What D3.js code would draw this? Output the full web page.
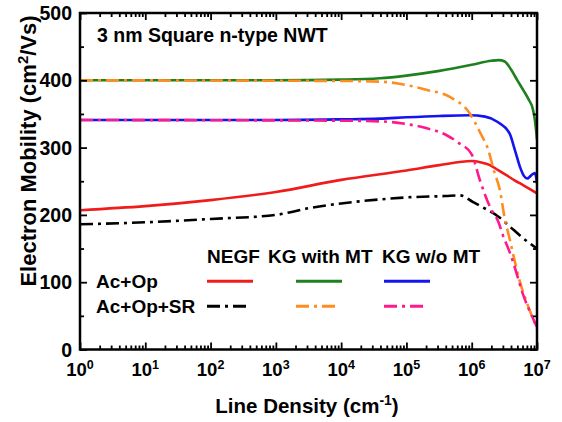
<!DOCTYPE html>
<html lang="en">
<head>
<script src="https://d3js.org/d3.v7.min.js"></script>
<style>
  body { margin: 0; background: #fff; }
  text { font-family: "Liberation Sans", Arial, sans-serif; font-weight: bold; fill: #000; }
</style>
</head>
<body>
<div id="chart"></div>
<script>
// line density (cm^-1) , mobility (cm^2/Vs)
const negfAcOp = [[1,207],[10,213],[100,222],[1e3,234],[1e4,252],[1e5,266],[3.2e5,274],[1e6,280],[1.4e6,278],[1.9e6,274],[2.5e6,267],[3.4e6,259],[4.6e6,251],[6.2e6,244],[7.9e6,238],[1e7,232]];
const negfAcOpSR = [[1,186],[10,189],[100,194],[1e3,200],[3.2e3,210],[1e4,217],[3.9e4,223],[1e5,226],[3.9e5,228],[6.6e5,229],[1.05e6,219],[1.7e6,208],[2.6e6,197],[3.8e6,183],[6.2e6,165],[1e7,150]];
const kgMtAcOp = [[1,400],[1e3,400],[1e4,401],[3.9e4,403],[1e5,407],[3.2e5,414],[1e6,423],[2e6,429],[2.6e6,430],[3.2e6,428],[4e6,416],[5e6,400],[6.2e6,385],[7.4e6,372],[8.7e6,356],[9.3e6,340],[1e7,312]];
const kgMtAcOpSR = [[1,400],[1e4,399],[3.9e4,398],[1e5,393],[2e5,386],[4.7e5,375],[9.3e5,351],[1.35e6,322],[1.8e6,296],[2.2e6,265],[2.7e6,237],[3.2e6,195],[3.8e6,165],[4.3e6,142],[5.5e6,100],[7.4e6,63],[1e7,31]];
const kgNoMtAcOp = [[1,341],[1e3,341],[1e4,342],[3.9e4,343],[1e5,345],[3.2e5,347],[9.3e5,348],[1.6e6,346],[2.5e6,338],[3.8e6,321],[4.6e6,296],[5.5e6,271],[6.3e6,258],[7.1e6,254],[7.6e6,256],[8.7e6,261],[9.3e6,262],[1e7,247]];
const kgNoMtAcOpSR = [[1,341],[1e4,340],[3.9e4,339],[1e5,335],[2e5,329],[4.2e5,318],[6.3e5,307],[1e6,290],[1.35e6,250],[1.9e6,212],[2.6e6,188],[3e6,170],[3.8e6,145],[4.3e6,130],[6.2e6,80],[8.7e6,46],[1e7,33]];

const decades = [0,1,2,3,4,5,6,7];
const yTicks = [0,100,200,300,400,500];
const columnNames = ["NEGF","KG with MT","KG w/o MT"];
const rowNames = ["Ac+Op","Ac+Op+SR"];

const series = [
  {data: negfAcOp,     col: 0, row: 0, color: "#f01c1c"},
  {data: kgMtAcOp,     col: 1, row: 0, color: "#1e801e"},
  {data: kgNoMtAcOp,   col: 2, row: 0, color: "#1414f0"},
  {data: negfAcOpSR,   col: 0, row: 1, color: "#000000"},
  {data: kgMtAcOpSR,   col: 1, row: 1, color: "#ff8c1e"},
  {data: kgNoMtAcOpSR, col: 2, row: 1, color: "#ff1a8c"}
];

var W = 562, H = 422;
var margin = {top: 13, right: 25, bottom: 72.5, left: 80},
    width = W - margin.left - margin.right,
    height = H - margin.top - margin.bottom;

var svg = d3.select("#chart").append("svg")
  .attr("width", W).attr("height", H)
  .append("g")
  .attr("transform", "translate(" + margin.left + "," + margin.top + ")");

var x = d3.scaleLog().domain([1, 1e7]).range([0, width]);
var y = d3.scaleLinear().domain([0, 500]).range([height, 0]);

var minorX = [];
decades.slice(0, -1).forEach(function(e) {
  for (var k = 2; k <= 9; k++) minorX.push(k * Math.pow(10, e));
});
var majorX = decades.map(function(e){ return Math.pow(10, e); });
var minorY = d3.range(50, 500, 100);

svg.append("clipPath").attr("id", "clip")
  .append("rect").attr("width", width).attr("height", height);

// curves: solid first, dash-dot on top
var line = d3.line()
  .x(function(d){ return x(d[0]); })
  .y(function(d){ return y(d[1]); })
  .curve(d3.curveMonotoneX);

svg.append("g").attr("clip-path", "url(#clip)")
  .selectAll("path")
  .data(series)
  .enter().append("path")
  .attr("d", function(d){ return line(d.data); })
  .attr("fill", "none")
  .attr("stroke", function(d){ return d.color; })
  .attr("stroke-width", 2.6)
  .attr("stroke-dasharray", function(d){ return d.row ? "13,5,3,5" : null; });

// axes, ticks inward on all four sides
function ticks(axis, values, size) {
  return axis.tickValues(values).tickSizeInner(-size).tickSizeOuter(0).tickFormat("");
}
var axes = [
  [d3.axisBottom(x), "translate(0," + height + ")", majorX, minorX],
  [d3.axisTop(x), null, majorX, minorX],
  [d3.axisLeft(y), null, yTicks, minorY],
  [d3.axisRight(y), "translate(" + width + ",0)", yTicks, minorY]
];
axes.forEach(function(a) {
  [[a[2], 7], [a[3], 4]].forEach(function(t) {
    var g = svg.append("g").attr("transform", a[1]).call(ticks(a[0], t[0], t[1]));
    g.select(".domain").remove();
    g.selectAll("line").attr("stroke", "#000").attr("stroke-width", 1.8);
  });
});

svg.append("rect")
  .attr("width", width).attr("height", height)
  .attr("fill", "none").attr("stroke", "#000").attr("stroke-width", 2.5);

// tick labels
svg.append("g").selectAll("text")
  .data(yTicks).enter().append("text")
  .attr("x", -8).attr("y", function(d){ return y(d); })
  .attr("dy", "0.36em")
  .attr("text-anchor", "end")
  .style("font-size", "19.5px")
  .text(function(d){ return d; });

var xl = svg.append("g").selectAll("text")
  .data(decades).enter().append("text")
  .attr("x", function(d){ return x(Math.pow(10, d)); })
  .attr("y", height + 26.5)
  .attr("text-anchor", "middle")
  .style("font-size", "18.5px");
xl.append("tspan").text("10");
xl.append("tspan").attr("dy", -7).style("font-size", "12.5px").text(function(d){ return d; });

// axis titles
var xt = svg.append("text")
  .attr("x", 227).attr("y", 400)
  .attr("text-anchor", "middle")
  .style("font-size", "20.5px");
xt.append("tspan").text("Line Density  (cm");
xt.append("tspan").attr("dy", -8).style("font-size", "14px").text("-1");
xt.append("tspan").attr("dy", 8).text(")");

var yt = svg.append("text")
  .attr("transform", "translate(-44," + (151 - margin.top) + ") rotate(-90)")
  .attr("text-anchor", "middle")
  .style("font-size", "22px");
yt.append("tspan").text("Electron Mobility  (cm");
yt.append("tspan").attr("dy", -8).style("font-size", "15px").text("2");
yt.append("tspan").attr("dy", 8).text("/Vs)");

svg.append("text")
  .attr("x", 17).attr("y", 42 - margin.top)
  .style("font-size", "19.5px")
  .text("3 nm Square n-type NWT");

// legend table
var colX = [127, 216, 304];
var headX = [127, 188, 302];
var rowY = [268, 293];
svg.append("g").selectAll("text")
  .data(columnNames).enter().append("text")
  .attr("x", function(d, i){ return headX[i]; })
  .attr("y", 263 - margin.top)
  .style("font-size", "19px")
  .text(function(d){ return d; });
svg.append("g").selectAll("text")
  .data(rowNames).enter().append("text")
  .attr("x", 16)
  .attr("y", function(d, i){ return rowY[i] + 20 - margin.top; })
  .style("font-size", "19px")
  .text(function(d){ return d; });
svg.append("g").selectAll("line")
  .data(series).enter().append("line")
  .attr("x1", function(d){ return colX[d.col]; })
  .attr("x2", function(d){ return colX[d.col] + (d.row ? 41 : 46); })
  .attr("y1", function(d){ return rowY[d.row] + 13.3 - margin.top; })
  .attr("y2", function(d){ return rowY[d.row] + 13.3 - margin.top; })
  .attr("stroke", function(d){ return d.color; })
  .attr("stroke-width", 3)
  .attr("stroke-dasharray", function(d){ return d.row ? "13,5,3,5" : null; });
</script>
</body>
</html>
